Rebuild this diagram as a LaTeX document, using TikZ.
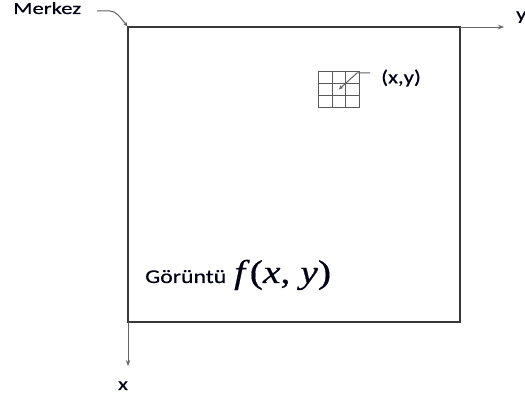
\documentclass[tikz,border=0pt]{standalone}
\usepackage{fontspec}
\setmainfont{Carlito}[FakeBold=0.4]
\newfontfamily\cambria{Liberation Serif}[FakeBold=0.4]
\usetikzlibrary{arrows.meta,calc}
\newcommand{\hs}[4]{\scalebox{#1}[#2]{\fontsize{#3pt}{#3pt}\selectfont #4}}
\begin{document}
\begin{tikzpicture}[x=1pt,y=-1pt,
  frame/.style={draw=black!78, line width=1.7pt, inner sep=0pt, outer sep=0pt},
  axis/.style={draw=black!60, line width=0.9pt, -{Stealth[length=6pt,width=4.5pt]}},
  ptr/.style={draw=black!62, line width=1pt, -{Stealth[length=4.5pt,width=4pt]}},
  gridln/.style={draw=black!65, line width=0.8pt},
  lbl/.style={inner sep=0pt, text=black!92!blue}]
\useasboundingbox (0,0) rectangle (525,403);
\clip (0,0) rectangle (525,403);
% image frame
\node[frame, minimum width=332pt, minimum height=295pt, anchor=north west] (img) at (128,27) {};
% axes
\coordinate (yend) at (504,27);
\coordinate (xend) at (128,366);
\draw[axis] (img.north east) -- (yend);
\draw[axis] (img.south west) -- (xend);
\node[lbl, anchor=base west] (ylab) at (516,20) {\hs{1.25}{1}{18}{y}};
\node[lbl, anchor=base] (xlab) at (123,390) {\hs{1.25}{1}{18}{x}};
% Merkez
\node[lbl, anchor=base west] (merkez) at (13,14) {\hs{1.33}{1}{17}{Merkez}};
\coordinate (mstart) at (97,11);
\draw[ptr, shorten >=1pt] (mstart) -- (110,11) .. controls (116,11) and (120,17) .. (img.north west);
% pixel grid
\node[draw=black!65, line width=0.8pt, minimum width=41pt, minimum height=36pt, inner sep=0pt, anchor=north west] (grid) at (318,71) {};
\foreach \f in {1/3,2/3}{
  \draw[gridln] ($(grid.north west)!\f!(grid.north east)$) -- ($(grid.south west)!\f!(grid.south east)$);
  \draw[gridln] ($(grid.north west)!\f!(grid.south west)$) -- ($(grid.north east)!\f!(grid.south east)$);
}
\coordinate (pstart) at (370,73);
\draw[ptr] (pstart) -- (357,73) -- (grid.center);
\node[lbl, anchor=west] (xy) at (381,78) {\hs{1.2}{1}{19}{(x,y)}};
% image label
\node[lbl, anchor=base west] (gor) at (145,283) {\hs{1.22}{1}{19.5}{Görüntü}};
\node[lbl, anchor=base west] (fxy) at (234,283) {\hs{1.2}{1}{33}{\cambria\textit{f}(\textit{x}, \textit{y})}};
\end{tikzpicture}
\end{document}
